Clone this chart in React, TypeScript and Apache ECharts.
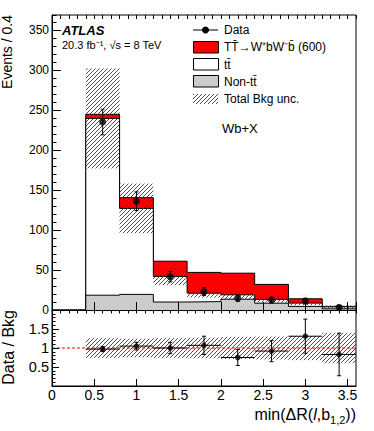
import React, { useEffect, useRef } from 'react';
import * as echarts from 'echarts';

// ---- data ----
const binEdges = [0.4, 0.8, 1.2, 1.6, 2.0, 2.4, 2.8, 3.2, 3.6];
const nonTtbar = [18.5, 19.5, 10, 10.5, 13.5, 8.5, 4.5, 1.5];
const ttbar = [221, 107.5, 32, 10.5, 5.5, 4.8, 4.1, 2.5];
const signal = [5.1, 13.4, 19, 26, 27, 18.7, 5.4, 0.5];
const dataValues = [235, 136, 41.7, 23, 14.6, 12.5, 11.3, 3.3];
const dataErrors = [16, 11.7, 6.5, 5, 3.8, 3.6, 3.4, 2];
const bkgUnc = [62.5, 31, 11, 5.5, 5.5, 4, 2.7, 1.6];
const ratioValues = [0.97, 1.05, 1.0, 1.07, 0.75, 0.92, 1.31, 0.83];
const ratioErrors = [0.065, 0.1, 0.15, 0.24, 0.21, 0.28, 0.45, 0.56];
const ratioUnc = [0.26, 0.245, 0.26, 0.27, 0.29, 0.3, 0.32, 0.4];

const xRange = [0, 3.6];
const xMajor = 0.5;
const xMinor = 0.1;
const mainYRange = [0, 368.75];
const mainYMajor = 50;
const mainYMinor = 10;
const ratioYRange = [0, 2];
const ratioYMajor = 0.5;
const ratioYMinor = 0.1;
const ratioYLabels = ['0.5', '1', '1.5'];

const legendLabels = ['Data', 'TT\u0304\u2192W\u207AbW\u207Bb\u0304 (600)', 'tt\u0304', 'Non-tt\u0304', 'Total Bkg unc.'];

const FONT = "'Liberation Sans', Arial, Helvetica, sans-serif";
const HATCH = '#3a3a3a';

function hatchLines(rx: number, ry: number, rw: number, rh: number, step: number) {
  const out: any[] = [];
  const cMin = Math.ceil((rx + ry) / step) * step;
  const cMax = rx + rw + ry + rh;
  for (let c = cMin; c <= cMax; c += step) {
    const xa = Math.max(rx, c - (ry + rh));
    const xb = Math.min(rx + rw, c - ry);
    if (xb - xa > 0.3) {
      out.push({
        type: 'line',
        silent: true,
        shape: { x1: xa, y1: c - xa, x2: xb, y2: c - xb },
        style: { stroke: HATCH, lineWidth: 0.9 },
      });
    }
  }
  return out;
}

function stepPoints(vals: number[]) {
  const pts: number[][] = [[binEdges[0], 0]];
  vals.forEach((v, i) => {
    pts.push([binEdges[i], v]);
    pts.push([binEdges[i + 1], v]);
  });
  pts.push([binEdges[binEdges.length - 1], 0]);
  return pts;
}

export default function App() {
  const ref = useRef<HTMLDivElement>(null);
  useEffect(() => {
    if (!ref.current) return;
    const chart = echarts.init(ref.current, undefined, { renderer: 'svg' });

    const cumBkg = nonTtbar.map((v, i) => v + ttbar[i]);
    const cumTot = cumBkg.map((v, i) => v + signal[i]);
    const centers = binEdges.slice(0, -1).map((e, i) => (e + binEdges[i + 1]) / 2);

    const mainHatch = cumBkg.map((b, i) => [binEdges[i], binEdges[i + 1], b - bkgUnc[i], b + bkgUnc[i]]);
    const ratioHatch = ratioUnc.map((u, i) => [binEdges[i], binEdges[i + 1], 1 - u, 1 + u]);
    const mainData = centers.map((c, i) => [c, dataValues[i], dataErrors[i]]);
    const ratioData = centers.map((c, i) => [binEdges[i], binEdges[i + 1], ratioValues[i], ratioErrors[i], c]);

    const hatchRender = (params: any, api: any) => {
      const p0 = api.coord([api.value(0), api.value(3)]);
      const p1 = api.coord([api.value(1), api.value(2)]);
      return { type: 'group', children: hatchLines(p0[0], p0[1], p1[0] - p0[0], p1[1] - p0[1], 4) };
    };

    const blackLine = (x1: number, y1: number, x2: number, y2: number) => ({
      type: 'line',
      shape: { x1, y1, x2, y2 },
      style: { stroke: '#000', lineWidth: 1 },
    });

    const tickStyle = { color: '#000', width: 1 };

    const xAxisBase = (gridIndex: number, interval: number, len: number, labels: boolean, line: boolean) => ({
      type: 'value',
      gridIndex,
      min: xRange[0],
      max: xRange[1],
      interval,
      z: 10,
      axisLine: { show: line, onZero: false, lineStyle: { color: '#000', width: 1 } },
      axisTick: { show: true, inside: true, length: len, lineStyle: tickStyle },
      axisLabel: {
        show: labels,
        showMaxLabel: false,
        margin: 2,
        color: '#000',
        fontSize: 14,
        fontFamily: FONT,
      },
      splitLine: { show: false },
    });

    const option: any = {
      animation: false,
      backgroundColor: '#fff',
      grid: [
        { left: 52, top: 15, width: 304, height: 295, show: true, borderColor: '#000', borderWidth: 1, backgroundColor: 'transparent' },
        { left: 52, top: 310, width: 304, height: 76, show: true, borderColor: '#000', borderWidth: 1, backgroundColor: 'transparent' },
      ],
      xAxis: [
        xAxisBase(0, xMajor, 8, false, true),
        xAxisBase(0, xMinor, 4, false, false),
        xAxisBase(1, xMajor, 7, true, true),
        xAxisBase(1, xMinor, 3.5, false, false),
      ],
      yAxis: [
        {
          type: 'value', gridIndex: 0, position: 'left',
          min: mainYRange[0], max: mainYRange[1], interval: mainYMajor, z: 10,
          axisLine: { show: true, onZero: false, lineStyle: { color: '#000', width: 1 } },
          axisTick: { show: true, inside: true, length: 9, lineStyle: tickStyle },
          axisLabel: { show: true, showMaxLabel: false, margin: 3, color: '#000', fontSize: 12, fontFamily: FONT },
          splitLine: { show: false },
        },
        {
          type: 'value', gridIndex: 0, position: 'left',
          min: mainYRange[0], max: mainYRange[1], interval: mainYMinor, z: 10,
          axisLine: { show: false },
          axisTick: { show: true, inside: true, length: 4.5, lineStyle: tickStyle },
          axisLabel: { show: false },
          splitLine: { show: false },
        },
        {
          type: 'value', gridIndex: 1, position: 'left',
          min: ratioYRange[0], max: ratioYRange[1], interval: ratioYMajor, z: 10,
          axisLine: { show: true, onZero: false, lineStyle: { color: '#000', width: 1 } },
          axisTick: { show: true, inside: true, length: 7, lineStyle: tickStyle },
          axisLabel: {
            show: true, margin: 3, color: '#000', fontSize: 14.5, fontFamily: FONT,
            formatter: (v: number) => {
              const s = String(v);
              return ratioYLabels.indexOf(s) >= 0 ? s : '';
            },
          },
          splitLine: { show: false },
        },
        {
          type: 'value', gridIndex: 1, position: 'left',
          min: ratioYRange[0], max: ratioYRange[1], interval: ratioYMinor, z: 10,
          axisLine: { show: false },
          axisTick: { show: true, inside: true, length: 3.5, lineStyle: tickStyle },
          axisLabel: { show: false },
          splitLine: { show: false },
        },
      ],
      series: [
        {
          name: 'signal', type: 'line', xAxisIndex: 0, yAxisIndex: 0, z: 2,
          data: stepPoints(cumTot), symbol: 'none',
          lineStyle: { color: '#000', width: 1 }, areaStyle: { color: '#ff0000', opacity: 1 },
        },
        {
          name: 'ttbar', type: 'line', xAxisIndex: 0, yAxisIndex: 0, z: 3,
          data: stepPoints(cumBkg), symbol: 'none',
          lineStyle: { color: '#000', width: 1 }, areaStyle: { color: '#ffffff', opacity: 1 },
        },
        {
          name: 'nonttbar', type: 'line', xAxisIndex: 0, yAxisIndex: 0, z: 4,
          data: stepPoints(nonTtbar), symbol: 'none',
          lineStyle: { color: '#000', width: 1 }, areaStyle: { color: '#cccccc', opacity: 1 },
        },
        {
          name: 'unc', type: 'custom', xAxisIndex: 0, yAxisIndex: 0, z: 5,
          data: mainHatch, renderItem: hatchRender, silent: true,
        },
        {
          name: 'dataErr', type: 'custom', xAxisIndex: 0, yAxisIndex: 0, z: 6, silent: true,
          data: mainData,
          renderItem: (params: any, api: any) => {
            const x = api.value(0), y = api.value(1), e = api.value(2);
            const t = api.coord([x, y + e]);
            const b = api.coord([x, y - e]);
            return {
              type: 'group',
              children: [
                blackLine(t[0], t[1], b[0], b[1]),
                blackLine(t[0] - 2, t[1], t[0] + 2, t[1]),
                blackLine(b[0] - 2, b[1], b[0] + 2, b[1]),
              ],
            };
          },
        },
        {
          name: 'data', type: 'scatter', xAxisIndex: 0, yAxisIndex: 0, z: 7,
          data: centers.map((c, i) => [c, dataValues[i]]),
          symbol: 'circle', symbolSize: 7, itemStyle: { color: '#000' },
        },
        {
          name: 'ratioUnc', type: 'custom', xAxisIndex: 2, yAxisIndex: 2, z: 3,
          data: ratioHatch, renderItem: hatchRender, silent: true,
        },
        {
          name: 'unity', type: 'line', xAxisIndex: 2, yAxisIndex: 2, z: 4,
          data: [[xRange[0], 1], [xRange[1], 1]], symbol: 'none',
          lineStyle: { color: '#ff0000', width: 1, type: [3, 2] },
        },
        {
          name: 'ratioErr', type: 'custom', xAxisIndex: 2, yAxisIndex: 2, z: 5, silent: true,
          data: ratioData,
          renderItem: (params: any, api: any) => {
            const x0 = api.value(0), x1 = api.value(1), y = api.value(2), e = api.value(3), xc = api.value(4);
            const l = api.coord([x0, y]);
            const r = api.coord([x1, y]);
            const t = api.coord([xc, y + e]);
            const b = api.coord([xc, y - e]);
            return {
              type: 'group',
              children: [
                blackLine(l[0], l[1], r[0], r[1]),
                blackLine(t[0], t[1], b[0], b[1]),
                blackLine(t[0] - 2, t[1], t[0] + 2, t[1]),
                blackLine(b[0] - 2, b[1], b[0] + 2, b[1]),
              ],
            };
          },
        },
        {
          name: 'ratio', type: 'scatter', xAxisIndex: 2, yAxisIndex: 2, z: 6,
          data: centers.map((c, i) => [c, ratioValues[i]]),
          symbol: 'circle', symbolSize: 5.5, itemStyle: { color: '#000' },
        },
      ],
      graphic: [
        // legend
        { type: 'line', shape: { x1: 193, y1: 30, x2: 218, y2: 30 }, style: { stroke: '#000', lineWidth: 1 } },
        { type: 'circle', shape: { cx: 205.5, cy: 30, r: 3.5 }, style: { fill: '#000' } },
        { type: 'rect', shape: { x: 193.5, y: 41.5, width: 25, height: 11.5 }, style: { fill: '#ff0000', stroke: '#000', lineWidth: 1 } },
        { type: 'rect', shape: { x: 193.5, y: 58.5, width: 25, height: 11.5 }, style: { fill: '#ffffff', stroke: '#000', lineWidth: 1 } },
        { type: 'rect', shape: { x: 193.5, y: 75.5, width: 25, height: 11.5 }, style: { fill: '#cccccc', stroke: '#000', lineWidth: 1 } },
        { type: 'group', children: hatchLines(193, 94, 25, 10, 4) },
        ...legendLabels.map((t, i) => ({
          type: 'text', x: 224, y: [30, 47, 64.5, 81.5, 99][i],
          style: { text: t, fill: '#000', fontSize: 12, fontFamily: FONT, align: 'left', verticalAlign: 'middle' },
        })),
        {
          type: 'text', x: 62, y: 30,
          style: { text: 'ATLAS', fill: '#000', fontSize: 13, fontWeight: 'bold', fontStyle: 'italic', fontFamily: FONT, align: 'left', verticalAlign: 'middle' },
        },
        {
          type: 'text', x: 62, y: 45,
          style: { text: '20.3 fb\u207B\u00B9, \u221As = 8 TeV', fill: '#000', fontSize: 11, fontFamily: FONT, align: 'left', verticalAlign: 'middle' },
        },
        {
          type: 'text', x: 222, y: 128,
          style: { text: 'Wb+X', fill: '#000', fontSize: 13, fontFamily: FONT, align: 'left', verticalAlign: 'middle' },
        },
        {
          type: 'text', x: 7, y: 15, rotation: Math.PI / 2,
          style: { text: 'Events / 0.4', fill: '#000', fontSize: 14, fontFamily: FONT, align: 'right', verticalAlign: 'middle' },
        },
        {
          type: 'text', x: 8, y: 310, rotation: Math.PI / 2,
          style: { text: 'Data / Bkg', fill: '#000', fontSize: 16, fontFamily: FONT, align: 'right', verticalAlign: 'middle' },
        },
        {
          type: 'text', x: 356, y: 414,
          style: {
            text: '{a|min(\u0394R(}{it|l}{a|,b}{sub|1,2}{a|))}',
            align: 'right', verticalAlign: 'middle', fill: '#000',
            rich: {
              a: { fontSize: 16, fontFamily: FONT, fill: '#000', lineHeight: 18 },
              it: { fontSize: 16, fontFamily: FONT, fontStyle: 'italic', fill: '#000', lineHeight: 18 },
              sub: { fontSize: 11, fontFamily: FONT, fill: '#000', lineHeight: 18, padding: [12, 0, 0, 0] },
            },
          },
        },
      ],
    };

    chart.setOption(option);
    return () => chart.dispose();
  }, []);

  return (
    <div
      ref={ref}
      style={{ position: 'fixed', left: 0, top: 0, width: 374, height: 431, background: '#fff' }}
    />
  );
}
